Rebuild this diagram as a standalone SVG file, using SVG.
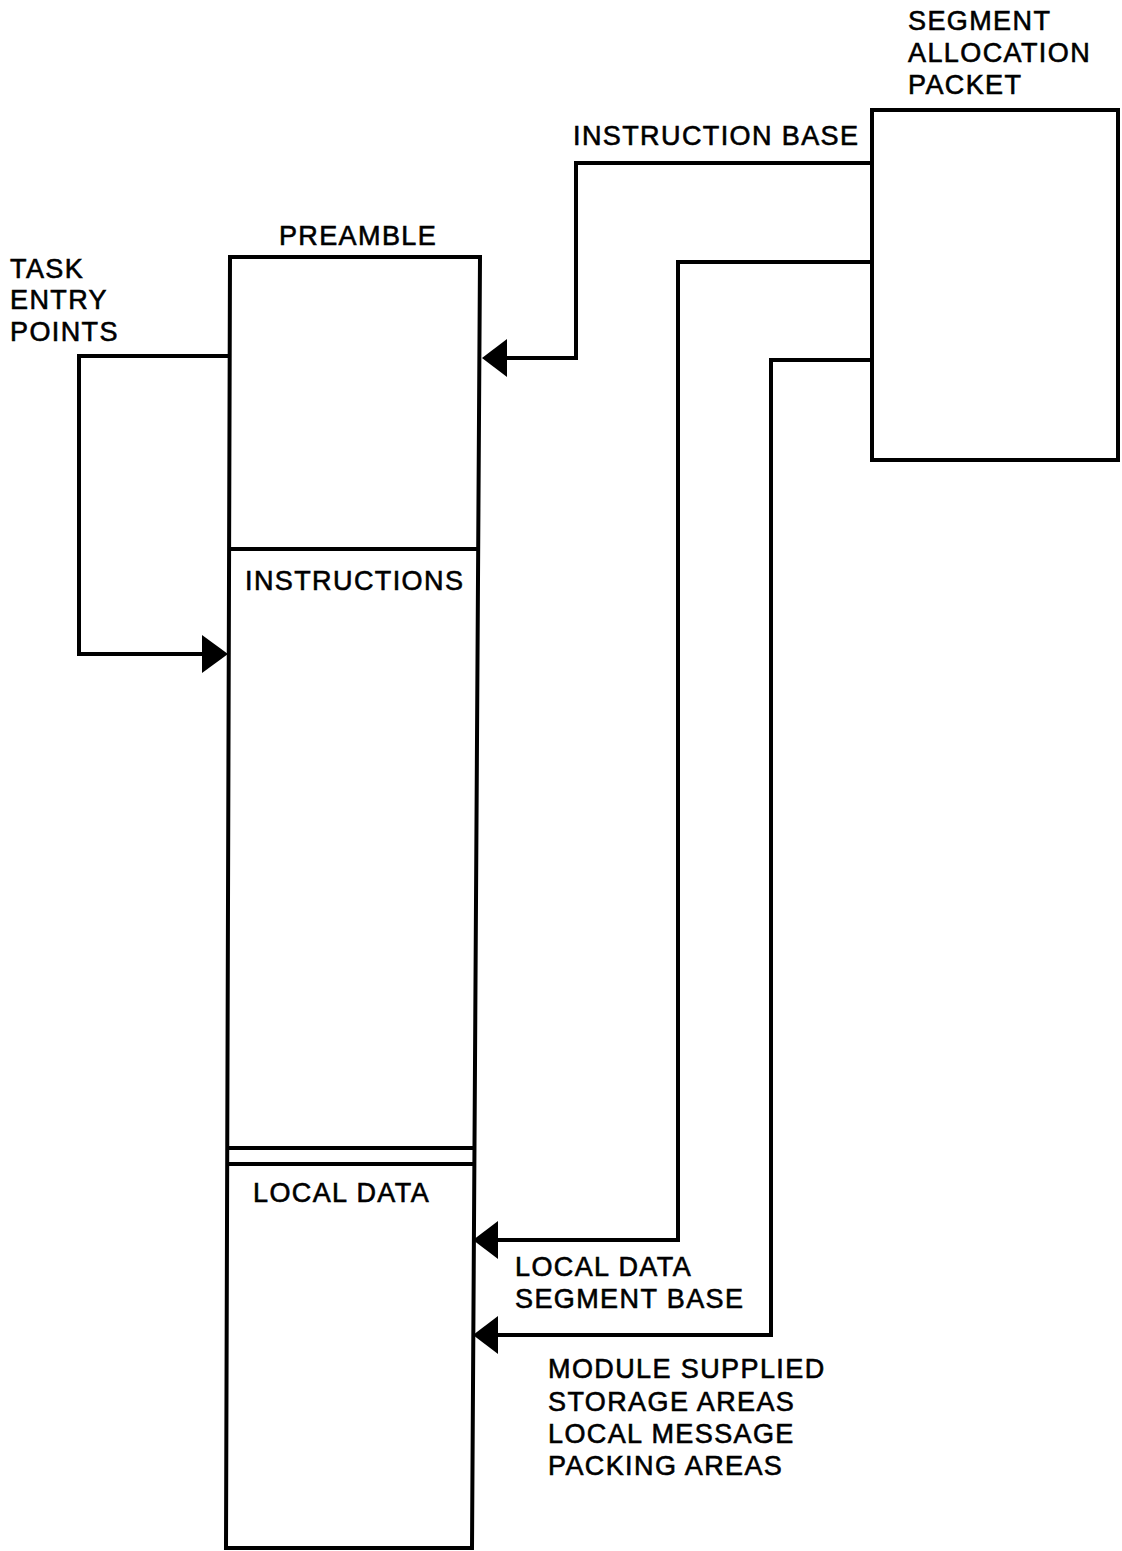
<svg xmlns="http://www.w3.org/2000/svg" width="1122" height="1551" viewBox="0 0 1122 1551">
<style>
.t{font-family:"Liberation Sans",Arial,sans-serif;font-size:27px;fill:#000;stroke:#000;stroke-width:0.6;letter-spacing:1.4px}
.s{fill:none;stroke:#000;stroke-width:4;stroke-linejoin:miter}
.a{fill:#000;stroke:none}
</style>
<rect width="1122" height="1551" fill="#fff"/>
<g id="segment-column">
<polygon class="s" points="230,257 480,257 472,1548 226,1548"/>
<line class="s" x1="229" y1="549" x2="477" y2="549"/>
<line class="s" x1="227" y1="1148" x2="473" y2="1148"/>
<line class="s" x1="227" y1="1164" x2="473" y2="1164"/>
<text class="t" x="358" y="245" text-anchor="middle">PREAMBLE</text>
<text class="t" x="245" y="590">INSTRUCTIONS</text>
<text class="t" x="253" y="1202">LOCAL DATA</text>
</g>
<g id="segment-allocation-packet">
<rect class="s" x="872" y="110" width="246" height="350"/>
<text class="t" x="908" y="30">SEGMENT</text>
<text class="t" x="908" y="62">ALLOCATION</text>
<text class="t" x="908" y="94">PACKET</text>
</g>
<g id="task-entry-label">
<text class="t" x="10" y="278">TASK</text>
<text class="t" x="10" y="309">ENTRY</text>
<text class="t" x="10" y="341">POINTS</text>
</g>
<g id="connectors">
<polyline class="s" points="229,356 79,356 79,654 206,654"/>
<polygon class="a" points="228,654 202,635 202,673"/>
<polyline class="s" points="872,163 576,163 576,358 503,358"/>
<polygon class="a" points="482,358 507,339 507,377"/>
<polyline class="s" points="872,262 678,262 678,1240 493,1240"/>
<polygon class="a" points="473,1240 498,1221 498,1259"/>
<polyline class="s" points="872,360 771,360 771,1335 493,1335"/>
<polygon class="a" points="473,1335 498,1316 498,1354"/>
<text class="t" x="573" y="145">INSTRUCTION BASE</text>
<text class="t" x="515" y="1276">LOCAL DATA</text>
<text class="t" x="515" y="1308">SEGMENT BASE</text>
<text class="t" x="548" y="1378">MODULE SUPPLIED</text>
<text class="t" x="548" y="1411">STORAGE AREAS</text>
<text class="t" x="548" y="1443">LOCAL MESSAGE</text>
<text class="t" x="548" y="1475">PACKING AREAS</text>
</g>
</svg>
